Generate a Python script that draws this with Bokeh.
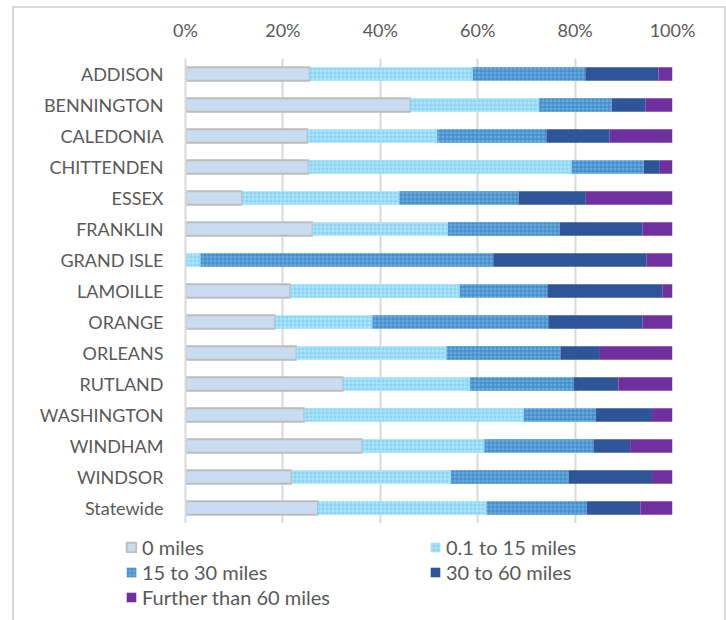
from bokeh.plotting import figure
from bokeh.models import (FactorRange, Range1d, Legend, LegendItem, PrintfTickFormatter,
                          FixedTicker, ColumnDataSource)
from bokeh.embed import file_html
from bokeh.resources import INLINE

counties = ["ADDISON", "BENNINGTON", "CALEDONIA", "CHITTENDEN", "ESSEX", "FRANKLIN",
            "GRAND ISLE", "LAMOILLE", "ORANGE", "ORLEANS", "RUTLAND", "WASHINGTON",
            "WINDHAM", "WINDSOR", "Statewide"]
series = ["0 miles", "0.1 to 15 miles", "15 to 30 miles", "30 to 60 miles", "Further than 60 miles"]

miles_0 = [25.5, 46.2, 25.1, 25.3, 11.6, 26.1, 0.0, 21.5, 18.4, 22.8, 32.4, 24.4, 36.3, 21.8, 27.2]
miles_0_15 = [33.5, 26.4, 26.6, 54.0, 32.3, 27.8, 3.1, 34.8, 20.0, 30.8, 26.0, 45.1, 25.1, 32.7, 34.6]
miles_15_30 = [23.1, 14.9, 22.4, 14.8, 24.5, 22.9, 60.1, 18.0, 36.1, 23.4, 21.3, 14.7, 22.4, 24.2, 20.6]
miles_30_60 = [15.0, 7.0, 13.0, 3.3, 13.8, 17.0, 31.5, 23.6, 19.3, 8.1, 9.2, 11.6, 7.5, 17.1, 11.0]
miles_60_plus = [2.9, 5.5, 12.9, 2.6, 17.8, 6.2, 5.3, 2.1, 6.2, 14.9, 11.1, 4.2, 8.7, 4.2, 6.6]

x_ticks = [0, 20, 40, 60, 80, 100]

keys = ["m0", "m15", "m30", "m60", "m60p"]
data = {"county": counties, "m0": miles_0, "m15": miles_0_15, "m30": miles_15_30,
        "m60": miles_30_60, "m60p": miles_60_plus}

FONT = "Lato"
TXT = "#595959"
BORDER = "2px solid #d9d9d9"

fills = ["#c9ddf2", "#88d6f7", "#66aadd", "#2e5597", "#7030a0"]
hatches = [None, "cross", "cross", None, None]
hatch_colors = ["white", "#ffffff", "#1f6fb8", "white", "white"]
hatch_alphas = [0, 0.35, 0.55, 0, 0]
line_colors = ["#bdbdbd", None, None, None, None]


def style(i):
    return dict(fill_color=fills[i], line_color=line_colors[i],
                line_width=2 if line_colors[i] else 0,
                hatch_pattern=hatches[i], hatch_color=hatch_colors[i],
                hatch_alpha=hatch_alphas[i], hatch_scale=4, hatch_weight=1)


p = figure(width=714, height=517, output_backend="svg", toolbar_location=None,
           y_range=FactorRange(*list(reversed(counties)), range_padding=0),
           x_range=Range1d(0, 100), x_axis_location="above",
           min_border_left=171, min_border_right=56, min_border_top=50, min_border_bottom=2)
p.styles = {"border-left": BORDER, "border-top": BORDER, "border-right": BORDER,
            "margin-left": "12px", "margin-top": "6px"}
p.outline_line_color = None

sources = []
left = [0.0] * len(counties)
for i, k in enumerate(keys):
    vals = data[k]
    right = [a + b for a, b in zip(left, vals)]
    src = ColumnDataSource({"county": counties, "left": list(left), "right": right})
    sources.append(src)
    p.hbar(y="county", left="left", right="right", height=0.43, source=src, **style(i))
    left = right

p.xaxis.ticker = FixedTicker(ticks=x_ticks)
p.xaxis.formatter = PrintfTickFormatter(format="%d%%")
p.xaxis.major_tick_line_color = None
p.xaxis.minor_tick_line_color = None
p.xaxis.axis_line_color = None
p.xaxis.major_label_text_font = FONT
p.xaxis.major_label_text_font_size = "18px"
p.xaxis.major_label_text_color = TXT
p.xaxis.major_label_standoff = 12

p.yaxis.major_tick_line_color = None
p.yaxis.minor_tick_line_color = None
p.yaxis.axis_line_color = "#d9d9d9"
p.yaxis.axis_line_width = 2
p.yaxis.major_label_text_font = FONT
p.yaxis.major_label_text_font_size = "18px"
p.yaxis.major_label_text_color = TXT
p.yaxis.major_label_standoff = 16

p.ygrid.grid_line_color = None
p.xgrid.grid_line_color = "#d9d9d9"
p.xgrid.grid_line_width = 2

# legend panel: same sources, but its ranges show none of the bars
q = figure(width=714, height=97, output_backend="svg", toolbar_location=None,
           x_range=Range1d(0, 100), y_range=FactorRange("legend"),
           x_axis_location=None, y_axis_location=None, min_border=0)
q.styles = {"border-left": BORDER, "border-right": BORDER, "margin-left": "12px"}
q.outline_line_color = None
q.grid.grid_line_color = None
leg_renderers = [q.hbar(y="county", left="left", right="right", height=0.43, source=sources[i], **style(i))
                 for i in range(len(series))]

items = [LegendItem(label=s, renderers=[r]) for s, r in zip(series, leg_renderers)]
legend = Legend(items=items, orientation="horizontal", ncols=2,
                location=(111, 11), padding=0, margin=0, spacing=1,
                glyph_width=12, glyph_height=12, label_height=20, label_width=286,
                label_standoff=5, label_text_font=FONT, label_text_font_size="20px",
                label_text_color=TXT, border_line_color=None, background_fill_alpha=0)
q.add_layout(legend, "center")

open("out.html", "w").write(file_html([p, q], INLINE))
